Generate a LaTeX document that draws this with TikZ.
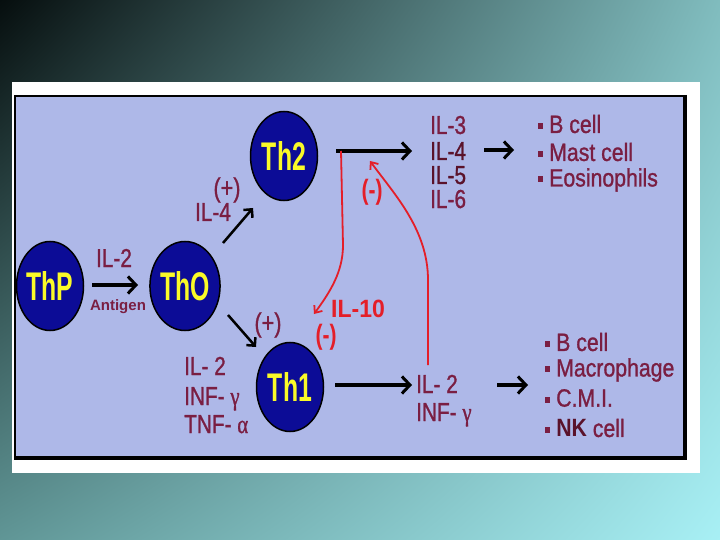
\documentclass[tikz,border=0pt]{standalone}
\usepackage{fontspec}
\setmainfont{Liberation Sans}
\newfontfamily\semib[FakeBold=1.2]{Liberation Sans}
\newfontfamily\grk[FakeBold=1.2]{Liberation Serif}
\usetikzlibrary{arrows.meta,shapes.geometric,shadings}
\definecolor{bgul}{RGB}{6,14,14}
\definecolor{bgur}{RGB}{128,188,190}
\definecolor{bgll}{RGB}{96,150,150}
\definecolor{bglr}{RGB}{168,240,245}
\definecolor{lav}{RGB}{174,184,232}
\definecolor{cellblue}{RGB}{12,12,150}
\definecolor{cellyel}{RGB}{250,250,40}
\definecolor{mar}{RGB}{122,30,66}
\definecolor{dmar}{RGB}{90,18,42}
\definecolor{rd}{RGB}{228,30,40}
\newcommand\cnd[2]{\scalebox{#1}[1]{#2}}
\newcommand\bul{\raisebox{4pt}{\rule{6pt}{6pt}}\hspace{7pt}}
\begin{document}
\begin{tikzpicture}[x=1pt,y=-1pt,
  cell/.style={ellipse,fill=cellblue,draw=black,line width=1.5pt,
    minimum width=67pt,minimum height=89pt,inner sep=0pt,text=cellyel,
    font=\fontsize{40}{40}\selectfont\bfseries},
  lbl/.style={inner sep=0pt,anchor=west,text=mar,font=\fontsize{26}{26}\semib,text height=19pt,text depth=1pt},
  bl/.style={inner sep=0pt,anchor=west,text=mar,font=\fontsize{25}{25}\semib},
  redl/.style={inner sep=0pt,text=rd,font=\fontsize{28}{28}\selectfont\bfseries},
  plus/.style={inner sep=0pt,text=mar,font=\fontsize{27}{27}\semib},
  bigarr/.style={line width=3.5pt,-{Straight Barb[length=8pt,width=17pt,line width=3pt]}},
  diagarr/.style={line width=2.5pt,-{Straight Barb[length=6pt,width=12pt]}},
  redarr/.style={draw=rd,line width=1.8pt,-{Straight Barb[length=6pt,width=10pt]}}]
\useasboundingbox (0,0) rectangle (720,540);
\shade[upper left=bgul,upper right=bgur,lower left=bgll,lower right=bglr] (0,0) rectangle (720,540);
\fill[white] (12,82) rectangle (700,473);
\filldraw[fill=lav,draw=black,line width=2pt] (15,96) rectangle (685,457);
\draw[line width=4pt] (685,95) -- (685,458) -- (14,458);

% cells
\node[cell] (thp) at (50,286) {\cnd{0.62}{ThP}};
\node[cell] (th0) at (185,286) {\cnd{0.62}{ThO}};
\node[cell] (th2) at (284,156) {\cnd{0.62}{Th2}};
\node[cell] (th1) at (290,387) {\cnd{0.62}{Th1}};

% ThP -> Th0
\coordinate (a1s) at (92,285);
\coordinate (a1e) at (138,285);
\draw[bigarr] (a1s) -- (a1e);
\node[inner sep=0pt,text=mar,font=\fontsize{26}{26}\semib] (il2a) at (114,258) {\cnd{0.8}{IL-2}};
\node[inner sep=0pt,text=mar,font=\fontsize{15}{15}\selectfont\bfseries] (antigen) at (118,307) {Antigen};

% Th0 -> Th2
\coordinate (a2s) at (223,243);
\coordinate (a2e) at (253,208);
\draw[diagarr] (a2s) -- (a2e);
\node[plus] (p1) at (227,190) {\cnd{0.8}{(+)}};
\node[plus,font=\fontsize{26}{26}\semib] (il4a) at (213,212) {\cnd{0.8}{IL-4}};

% Th0 -> Th1
\coordinate (a3s) at (228,315);
\coordinate (a3e) at (256,347);
\draw[diagarr] (a3s) -- (a3e);
\node[plus] (p2) at (268,325) {\cnd{0.8}{(+)}};

% Th2 output
\coordinate (o2s) at (336,151);
\coordinate (o2e) at (412,151);
\draw[bigarr] (o2s) -- (o2e);
\node[lbl] (il3) at (430,125) {\cnd{0.8}{IL-3}};
\node[lbl,text=dmar] (il4) at (430,151) {\cnd{0.8}{IL-4}};
\node[lbl,text=dmar] (il5) at (430,175) {\cnd{0.8}{IL-5}};
\node[lbl] (il6) at (430,199) {\cnd{0.8}{IL-6}};
\coordinate (o2bs) at (484,150);
\coordinate (o2be) at (514,150);
\draw[bigarr] (o2bs) -- (o2be);
\node[bl] (b1) at (538,124) {\cnd{0.85}{\bul B cell}};
\node[bl] (b2) at (538,152) {\cnd{0.85}{\bul Mast cell}};
\node[bl] (b3) at (538,180) {\cnd{0.85}{\bul Eosinophils}};

% Th1 side
\node[lbl] (il2b) at (184,366) {\cnd{0.8}{IL- 2}};
\node[lbl] (infb) at (184,396) {\cnd{0.8}{INF- {\grk γ}}};
\node[lbl] (tnfb) at (184,424) {\cnd{0.8}{TNF- {\grk α}}};

% Th1 output
\coordinate (o1s) at (335,385);
\coordinate (o1e) at (412,385);
\draw[bigarr] (o1s) -- (o1e);
\node[lbl] (il2c) at (416,384) {\cnd{0.8}{IL- 2}};
\node[lbl] (infc) at (416,412) {\cnd{0.8}{INF- {\grk γ}}};
\coordinate (o1bs) at (497,385);
\coordinate (o1be) at (528,385);
\draw[bigarr] (o1bs) -- (o1be);
\node[bl] (c1) at (545,342) {\cnd{0.85}{\bul B cell}};
\node[bl] (c2) at (545,370) {\cnd{0.85}{\bul Macrophage}};
\node[bl] (c3) at (545,398) {\cnd{0.85}{\bul C.M.I.}};
\node[bl] (c4) at (545,428) {\cnd{0.85}{\bul {\color{dmar}\normalfont\fontsize{25}{25}\selectfont\bfseries NK} cell}};

% red feedback
\coordinate (r1s) at (341,151);
\coordinate (r1m) at (343,245);
\coordinate (r1e) at (314,314);
\draw[redarr] (r1s) -- (r1m) .. controls (343,272) and (330,292) .. (r1e);
\coordinate (r2s) at (428,365);
\coordinate (r2m) at (428,280);
\coordinate (r2e) at (370,161);
\draw[redarr] (r2s) -- (r2m) .. controls (428,230) and (395,195) .. (r2e);
\node[redl] (m1) at (372,192) {\cnd{0.75}{(-)}};
\node[redl,font=\fontsize{25}{25}\selectfont\bfseries] (il10) at (358,309) {\cnd{0.92}{IL-10}};
\node[redl] (m2) at (326,337) {\cnd{0.75}{(-)}};
\end{tikzpicture}
\end{document}
